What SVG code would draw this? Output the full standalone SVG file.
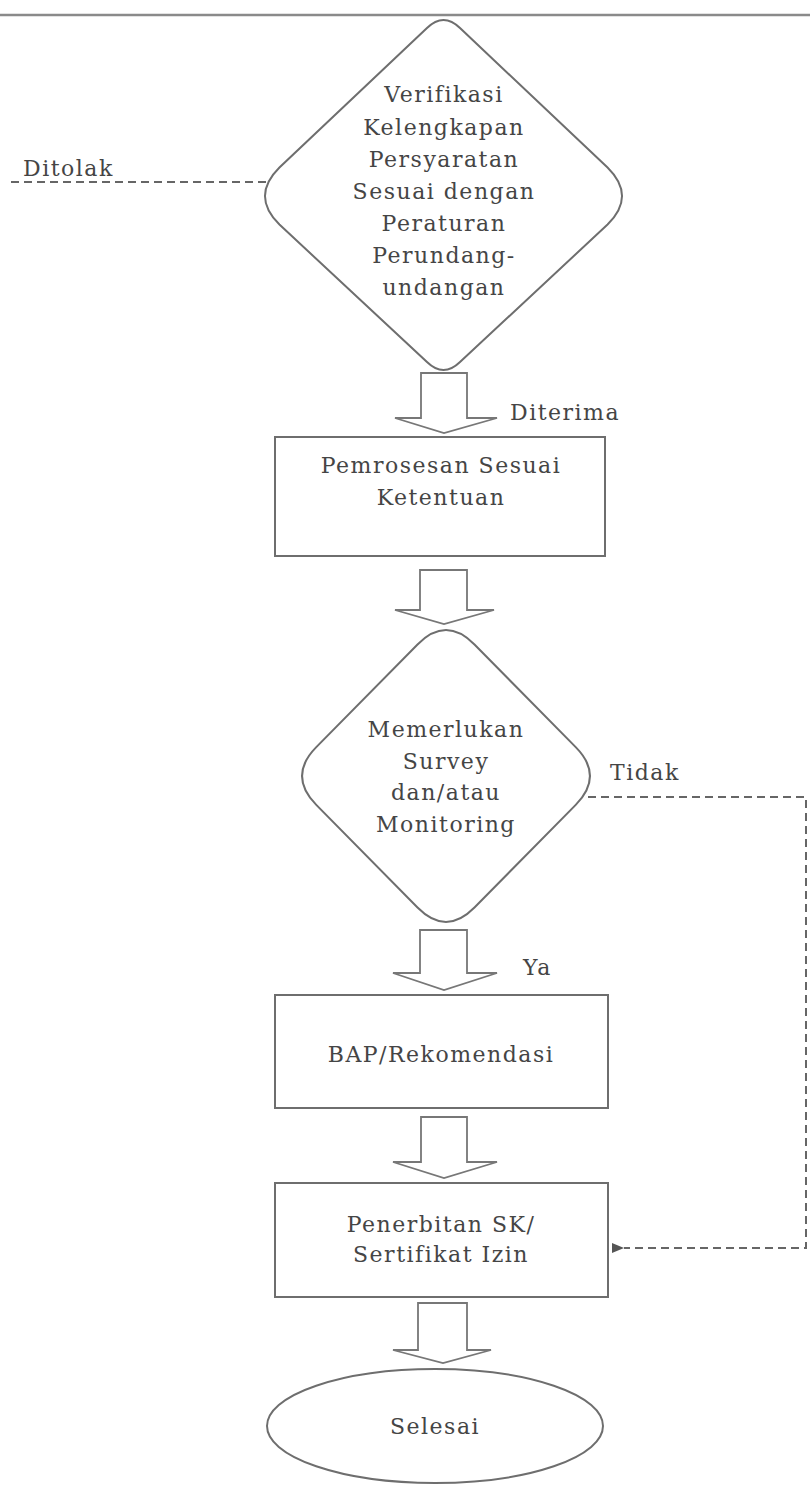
<svg xmlns="http://www.w3.org/2000/svg" width="810" height="1486" viewBox="0 0 810 1486">
<defs>
<style>
.shape{fill:#fff;stroke:#6e6e6e;stroke-width:2}
.blk{fill:#fff;stroke:#777;stroke-width:1.8;stroke-linejoin:miter}
.dash{fill:none;stroke:#666;stroke-width:2;stroke-dasharray:8 5}
.t{font-family:"DejaVu Serif","Liberation Serif",serif;font-size:22px;fill:#454545;letter-spacing:1.5px}
.c{text-anchor:middle}
</style>
<marker id="ah" viewBox="0 0 12 10" refX="0" refY="5" markerWidth="12" markerHeight="10" markerUnits="userSpaceOnUse" orient="auto-start-reverse">
<path d="M0,5 L12,0 L12,10 Z" fill="#555"/>
</marker>
</defs>
<rect width="810" height="1486" fill="#fff"/>
<line x1="0" y1="15" x2="810" y2="15" stroke="#8a8a8a" stroke-width="2.5"/>

<g id="connectors">
<path class="dash" d="M266,182 H7"/>
<text class="t" x="23" y="176">Ditolak</text>
<polygon class="blk" points="421,373 467,373 467,418 497,418 444,433 395,418 421,418"/>
<text class="t" x="510" y="420">Diterima</text>
<polygon class="blk" points="420,570 467,570 467,610 494,610 444,624 395,610 420,610"/>
<polygon class="blk" points="420,930 467,930 467,973 497,973 444,990 393,973 420,973"/>
<text class="t" x="523" y="975">Ya</text>
<polygon class="blk" points="421,1117 467,1117 467,1162 497,1162 444,1178 393,1162 421,1162"/>
<polygon class="blk" points="418,1303 467,1303 467,1350 491,1350 443,1363 393,1350 418,1350"/>
<path class="dash" d="M588,797 H806 V1248 H624" marker-end="url(#ah)"/>
<text class="t" x="610" y="780">Tidak</text>
</g>

<g id="verifikasi">
<path class="shape" d="M427,28 Q443.5,12 460,28 L607.55,167.45 Q636.5,196 607.55,224.55 L460,362 Q443.5,378 427,362 L279.45,224.55 Q250.5,196 279.45,167.45 Z"/>
<text class="t c" x="444" y="102">Verifikasi</text>
<text class="t c" x="444" y="135">Kelengkapan</text>
<text class="t c" x="444" y="167">Persyaratan</text>
<text class="t c" x="444" y="199">Sesuai dengan</text>
<text class="t c" x="444" y="231">Peraturan</text>
<text class="t c" x="444" y="263">Perundang-</text>
<text class="t c" x="444" y="295">undangan</text>
</g>

<g id="pemrosesan">
<rect class="shape" x="275" y="437" width="330" height="119"/>
<text class="t c" x="441" y="473">Pemrosesan Sesuai</text>
<text class="t c" x="441" y="505">Ketentuan</text>
</g>

<g id="memerlukan">
<path class="shape" d="M417.52,644.48 Q446,615.6 474.48,644.48 L575.72,747.12 Q604.2,776 575.72,804.88 L474.48,907.52 Q446,936.4 417.52,907.52 L316.28,804.88 Q287.8,776 316.28,747.12 Z"/>
<text class="t c" x="446" y="737">Memerlukan</text>
<text class="t c" x="446" y="769">Survey</text>
<text class="t c" x="446" y="800">dan/atau</text>
<text class="t c" x="446" y="832">Monitoring</text>
</g>

<g id="bap">
<rect class="shape" x="275" y="995" width="333" height="113"/>
<text class="t c" x="441" y="1062">BAP/Rekomendasi</text>
</g>

<g id="penerbitan">
<rect class="shape" x="275" y="1183" width="333" height="114"/>
<text class="t c" x="441" y="1232">Penerbitan SK/</text>
<text class="t c" x="441" y="1262">Sertifikat Izin</text>
</g>

<g id="selesai">
<ellipse class="shape" cx="435" cy="1426" rx="168" ry="57"/>
<text class="t c" x="435" y="1434">Selesai</text>
</g>
</svg>
